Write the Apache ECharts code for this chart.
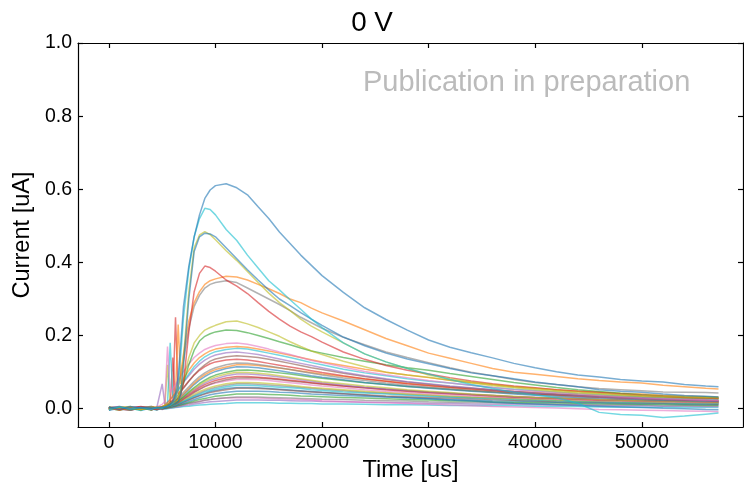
<!DOCTYPE html>
<html>
<head>
<meta charset="utf-8">
<title>0 V</title>
<script src="https://cdn.jsdelivr.net/npm/echarts@6/dist/echarts.min.js"></script>
<style>
    html, body { margin: 0; padding: 0; background: #fff; }
    #main { width: 744px; height: 487px; }
</style>
</head>
<body>
<div id="main"></div>
<script>

// time axis in us (shared by every trace)
var t = [0, 1000, 2000, 3000, 4000, 4500, 5000,
    5250, 5500, 5750, 6000, 6250, 6500, 6750, 7000,
    7500, 8000, 8500, 9000, 9500, 10000,
    11000, 12000, 13000, 14000, 15000, 16000, 17000, 18000, 19000, 20000,
    22000, 24000, 26000, 28000, 30000, 32000, 34000, 36000, 38000, 40000,
    42000, 44000, 46000, 48000, 50000, 52000, 54000, 56000, 57200];

var xTicks = [0, 10000, 20000, 30000, 40000, 50000];
var yTicks = [0, 0.2, 0.4, 0.6, 0.8, 1.0];

// big traces (uA)
var blueTop = [0.004, -0.002, 0.006, 0.001, 0.003, 0.002, 0.005,
    0.004, 0.008, 0.012, 0.02, 0.04, 0.09, 0.18, 0.28,
    0.39, 0.47, 0.53, 0.575, 0.598, 0.61,
    0.615, 0.604, 0.585, 0.552, 0.52, 0.483, 0.452, 0.42, 0.392, 0.364,
    0.318, 0.276, 0.244, 0.215, 0.188, 0.168, 0.153, 0.139, 0.124, 0.112, 0.101, 0.092, 0.087, 0.08, 0.076, 0.073, 0.066, 0.062, 0.06];
var cyanBig = [-0.003, 0.005, 0.0, 0.003, -0.002, 0.004, 0.002,
    0.005, 0.007, 0.01, 0.015, 0.025, 0.06, 0.15, 0.25,
    0.38, 0.47, 0.52, 0.548, 0.545, 0.53,
    0.49, 0.46, 0.42, 0.385, 0.35, 0.325, 0.298, 0.272, 0.245, 0.222,
    0.18, 0.15, 0.128, 0.11, 0.095, 0.08, 0.066, 0.055, 0.045, 0.038, 0.03, 0.015, -0.01, -0.016, -0.018, -0.024, -0.02, -0.015, -0.012];
var blueMid = [0.002, 0.005, -0.003, 0.004, 0.0, 0.003, 0.001,
    0.004, 0.006, 0.009, 0.012, 0.015, 0.02, 0.04, 0.12,
    0.3, 0.43, 0.47, 0.48, 0.478, 0.47,
    0.44, 0.41, 0.38, 0.352, 0.325, 0.3, 0.282, 0.263, 0.245, 0.228,
    0.196, 0.172, 0.152, 0.136, 0.123, 0.11, 0.098, 0.09, 0.082, 0.073, 0.066, 0.06, 0.052, 0.048, 0.045, 0.04, 0.036, 0.034, 0.032];
var oliveMid = [-0.001, 0.003, 0.006, -0.002, 0.004, 0.001, 0.003,
    0.006, 0.008, 0.01, 0.014, 0.018, 0.025, 0.05, 0.14,
    0.32, 0.44, 0.475, 0.484, 0.476, 0.462,
    0.432, 0.405, 0.375, 0.345, 0.316, 0.29, 0.268, 0.245, 0.226, 0.21,
    0.18, 0.15, 0.128, 0.11, 0.092, 0.082, 0.073, 0.066, 0.06, 0.055, 0.05, 0.046, 0.042, 0.039, 0.036, 0.034, 0.032, 0.031, 0.03];
var redMid = [0.003, -0.002, 0.002, 0.005, 0.001, -0.003, 0.004,
    0.006, 0.009, 0.012, 0.015, 0.02, 0.028, 0.04, 0.07,
    0.21, 0.32, 0.37, 0.39, 0.386, 0.376,
    0.352, 0.335, 0.315, 0.29, 0.266, 0.245, 0.226, 0.21, 0.197, 0.182,
    0.155, 0.135, 0.118, 0.105, 0.095, 0.085, 0.076, 0.068, 0.062, 0.057, 0.052, 0.048, 0.044, 0.04, 0.037, 0.034, 0.031, 0.029, 0.028];
var orangeMid = [0.002, 0.0, 0.004, -0.002, 0.003, 0.005, 0.004,
    0.006, 0.008, 0.01, 0.015, 0.03, 0.06, 0.1, 0.15,
    0.24, 0.29, 0.32, 0.34, 0.35, 0.355,
    0.362, 0.36, 0.352, 0.34, 0.328, 0.315, 0.3, 0.29, 0.275, 0.262,
    0.24, 0.216, 0.192, 0.172, 0.152, 0.138, 0.124, 0.11, 0.1, 0.094, 0.088, 0.082, 0.077, 0.073, 0.07, 0.064, 0.06, 0.056, 0.054];
var grayMid = [-0.002, 0.004, 0.001, 0.003, 0.006, 0.0, 0.002,
    0.005, 0.008, 0.012, 0.02, 0.035, 0.06, 0.09, 0.13,
    0.22, 0.28, 0.31, 0.33, 0.34, 0.345,
    0.35, 0.345, 0.33, 0.315, 0.3, 0.285, 0.268, 0.25, 0.235, 0.22,
    0.195, 0.175, 0.155, 0.14, 0.126, 0.112, 0.1, 0.09, 0.08, 0.072, 0.066, 0.06, 0.055, 0.052, 0.049, 0.046, 0.045, 0.044, 0.043];
var oliveLow = [0.004, 0.001, -0.003, 0.002, 0.005, 0.003, 0.006,
    0.009, 0.012, 0.015, 0.019, 0.025, 0.035, 0.055, 0.08,
    0.14, 0.18, 0.2, 0.215, 0.222, 0.228,
    0.238, 0.24, 0.232, 0.222, 0.21, 0.198, 0.183, 0.17, 0.158, 0.148,
    0.13, 0.115, 0.1, 0.092, 0.086, 0.078, 0.07, 0.063, 0.057, 0.052, 0.047, 0.043, 0.04, 0.037, 0.034, 0.032, 0.03, 0.029, 0.028];
var greenLow = [0.001, 0.004, 0.0, -0.003, 0.003, 0.002, 0.004,
    0.007, 0.01, 0.013, 0.017, 0.022, 0.03, 0.045, 0.07,
    0.12, 0.16, 0.185, 0.198, 0.205, 0.21,
    0.215, 0.214, 0.208, 0.2, 0.192, 0.183, 0.175, 0.166, 0.158, 0.152,
    0.14, 0.13, 0.12, 0.112, 0.105, 0.096, 0.088, 0.08, 0.072, 0.065, 0.058, 0.052, 0.047, 0.042, 0.038, 0.035, 0.033, 0.032, 0.031];

// the dense bundle of small traces
var k1 = [0.003, 0.006, -0.002, 0.004, 0.001, 0.005, 0.012,
    0.02, 0.17, 0.045, 0.055, 0.065, 0.078, 0.09, 0.102,
    0.122, 0.14, 0.152, 0.162, 0.168, 0.173,
    0.178, 0.18, 0.176, 0.17, 0.163, 0.155, 0.148, 0.14, 0.132, 0.126,
    0.114, 0.102, 0.093, 0.085, 0.077, 0.07, 0.064, 0.058, 0.052, 0.048, 0.044, 0.04, 0.036, 0.033, 0.03, 0.028, 0.026, 0.024, 0.023];
var k2 = [0.002, -0.004, 0.003, 0.0, 0.005, 0.002, 0.006,
    0.01, 0.016, 0.024, 0.034, 0.044, 0.23, 0.068, 0.082,
    0.105, 0.125, 0.14, 0.15, 0.158, 0.163,
    0.168, 0.17, 0.168, 0.163, 0.158, 0.152, 0.146, 0.14, 0.134, 0.128,
    0.118, 0.108, 0.1, 0.092, 0.085, 0.078, 0.072, 0.066, 0.06, 0.056, 0.052, 0.048, 0.045, 0.042, 0.04, 0.037, 0.035, 0.033, 0.032];
var k3 = [-0.003, 0.004, 0.001, -0.005, 0.003, 0.0, 0.004,
    0.008, 0.014, 0.18, 0.03, 0.04, 0.05, 0.062, 0.074,
    0.095, 0.115, 0.13, 0.142, 0.15, 0.156,
    0.162, 0.165, 0.163, 0.158, 0.152, 0.146, 0.14, 0.133, 0.126, 0.12,
    0.108, 0.098, 0.09, 0.082, 0.075, 0.07, 0.064, 0.058, 0.053, 0.049, 0.045, 0.041, 0.038, 0.035, 0.032, 0.03, 0.028, 0.027, 0.026];
var k4 = [0.001, -0.003, 0.005, 0.002, -0.001, 0.004, 0.068,
    0.012, 0.018, 0.026, 0.034, 0.042, 0.052, 0.062, 0.072,
    0.09, 0.108, 0.122, 0.133, 0.141, 0.147,
    0.153, 0.155, 0.152, 0.148, 0.142, 0.136, 0.13, 0.124, 0.118, 0.112,
    0.1, 0.09, 0.082, 0.074, 0.068, 0.062, 0.057, 0.052, 0.047, 0.043, 0.04, 0.036, 0.033, 0.03, 0.028, 0.026, 0.024, 0.022, 0.021];
var k5 = [0.004, 0.0, -0.004, 0.003, 0.006, 0.001, 0.004,
    0.007, 0.011, 0.016, 0.022, 0.03, 0.038, 0.047, 0.056,
    0.075, 0.093, 0.108, 0.12, 0.13, 0.136,
    0.142, 0.145, 0.143, 0.14, 0.135, 0.13, 0.124, 0.118, 0.112, 0.107,
    0.097, 0.088, 0.08, 0.073, 0.067, 0.061, 0.056, 0.051, 0.047, 0.043, 0.039, 0.036, 0.033, 0.031, 0.029, 0.027, 0.025, 0.024, 0.023];
var k6 = [-0.002, 0.003, 0.0, 0.005, -0.003, 0.002, 0.005,
    0.008, 0.012, 0.017, 0.024, 0.25, 0.04, 0.05, 0.058,
    0.076, 0.092, 0.105, 0.115, 0.123, 0.128,
    0.133, 0.135, 0.133, 0.129, 0.124, 0.119, 0.114, 0.109, 0.104, 0.099,
    0.09, 0.082, 0.075, 0.068, 0.063, 0.058, 0.053, 0.049, 0.045, 0.041, 0.038, 0.035, 0.032, 0.03, 0.028, 0.026, 0.024, 0.023, 0.022];
var k7 = [0.002, 0.006, 0.001, -0.002, 0.004, 0.0, 0.003,
    0.005, 0.008, 0.012, 0.017, 0.023, 0.03, 0.037, 0.045,
    0.06, 0.075, 0.088, 0.098, 0.106, 0.112,
    0.12, 0.125, 0.124, 0.121, 0.117, 0.112, 0.107, 0.102, 0.097, 0.092,
    0.084, 0.077, 0.07, 0.064, 0.059, 0.054, 0.05, 0.046, 0.042, 0.039, 0.036, 0.033, 0.03, 0.028, 0.026, 0.024, 0.023, 0.022, 0.021];
var k8 = [-0.004, 0.001, 0.004, 0.0, 0.002, -0.002, 0.002,
    0.004, 0.007, 0.01, 0.014, 0.019, 0.025, 0.031, 0.038,
    0.052, 0.066, 0.078, 0.088, 0.096, 0.102,
    0.11, 0.115, 0.114, 0.112, 0.108, 0.104, 0.099, 0.095, 0.09, 0.086,
    0.079, 0.072, 0.066, 0.061, 0.056, 0.052, 0.048, 0.044, 0.04, 0.037, 0.034, 0.031, 0.029, 0.027, 0.025, 0.023, 0.022, 0.021, 0.02];
var k9 = [0.005, 0.002, -0.001, 0.003, -0.004, 0.003, 0.001,
    0.003, 0.005, 0.008, 0.012, 0.016, 0.021, 0.027, 0.033,
    0.046, 0.058, 0.069, 0.078, 0.086, 0.092,
    0.1, 0.105, 0.106, 0.104, 0.101, 0.098, 0.095, 0.091, 0.087, 0.083,
    0.077, 0.071, 0.066, 0.061, 0.057, 0.053, 0.049, 0.046, 0.043, 0.04, 0.038, 0.036, 0.034, 0.032, 0.031, 0.03, 0.029, 0.028, 0.028];
var k10 = [0.0, 0.004, -0.003, 0.002, 0.005, 0.001, 0.003,
    0.004, 0.006, 0.009, 0.012, 0.016, 0.02, 0.025, 0.03,
    0.041, 0.052, 0.062, 0.07, 0.077, 0.082,
    0.09, 0.095, 0.095, 0.093, 0.09, 0.087, 0.083, 0.079, 0.075, 0.071,
    0.065, 0.059, 0.054, 0.05, 0.046, 0.042, 0.039, 0.036, 0.033, 0.031, 0.029, 0.027, 0.025, 0.023, 0.022, 0.021, 0.02, 0.019, 0.019];
var k11 = [0.003, -0.003, 0.002, 0.006, 0.0, 0.003, 0.002,
    0.004, 0.006, 0.009, 0.14, 0.015, 0.019, 0.024, 0.029,
    0.039, 0.049, 0.058, 0.066, 0.072, 0.077,
    0.084, 0.088, 0.088, 0.086, 0.084, 0.081, 0.078, 0.075, 0.071, 0.068,
    0.062, 0.057, 0.052, 0.048, 0.044, 0.041, 0.038, 0.035, 0.032, 0.03, 0.028, 0.026, 0.024, 0.023, 0.022, 0.021, 0.02, 0.019, 0.018];
var k12 = [-0.001, 0.003, 0.005, 0.001, -0.003, 0.004, 0.003,
    0.005, 0.007, 0.01, 0.013, 0.016, 0.02, 0.024, 0.028,
    0.036, 0.045, 0.053, 0.06, 0.066, 0.07,
    0.076, 0.08, 0.08, 0.079, 0.077, 0.074, 0.071, 0.068, 0.065, 0.062,
    0.057, 0.052, 0.048, 0.044, 0.041, 0.038, 0.035, 0.032, 0.03, 0.028, 0.026, 0.024, 0.022, 0.021, 0.02, 0.019, 0.018, 0.017, 0.017];
var k13 = [0.002, 0.0, 0.004, -0.002, 0.003, 0.001, 0.004,
    0.006, 0.12, 0.01, 0.012, 0.015, 0.018, 0.021, 0.025,
    0.032, 0.04, 0.047, 0.053, 0.058, 0.062,
    0.068, 0.072, 0.072, 0.071, 0.069, 0.067, 0.064, 0.061, 0.058, 0.056,
    0.052, 0.048, 0.044, 0.041, 0.038, 0.035, 0.032, 0.03, 0.028, 0.026, 0.024, 0.022, 0.021, 0.02, 0.019, 0.018, 0.017, 0.016, 0.016];
var k14 = [0.004, -0.002, 0.001, 0.003, 0.0, -0.004, 0.002,
    0.003, 0.005, 0.007, 0.009, 0.011, 0.014, 0.017, 0.02,
    0.027, 0.034, 0.04, 0.046, 0.05, 0.054,
    0.06, 0.064, 0.064, 0.063, 0.061, 0.059, 0.057, 0.055, 0.052, 0.05,
    0.046, 0.043, 0.04, 0.037, 0.034, 0.032, 0.03, 0.028, 0.026, 0.024, 0.022, 0.02, 0.019, 0.018, 0.017, 0.016, 0.015, 0.015, 0.014];
var k15 = [-0.003, 0.002, 0.0, 0.004, 0.001, 0.003, -0.001,
    0.002, 0.004, 0.006, 0.008, 0.01, 0.012, 0.015, 0.018,
    0.024, 0.03, 0.035, 0.04, 0.044, 0.047,
    0.052, 0.056, 0.056, 0.055, 0.054, 0.052, 0.05, 0.048, 0.046, 0.044,
    0.041, 0.038, 0.035, 0.033, 0.031, 0.029, 0.027, 0.025, 0.023, 0.022, 0.02, 0.019, 0.018, 0.017, 0.016, 0.015, 0.014, 0.014, 0.013];
var k16 = [0.002, 0.005, -0.002, 0.0, 0.003, 0.002, 0.001,
    0.002, 0.003, 0.005, 0.007, 0.009, 0.011, 0.013, 0.015,
    0.02, 0.025, 0.03, 0.034, 0.038, 0.041,
    0.045, 0.048, 0.048, 0.048, 0.047, 0.045, 0.044, 0.042, 0.04, 0.039,
    0.036, 0.034, 0.032, 0.03, 0.028, 0.026, 0.024, 0.022, 0.021, 0.02, 0.018, 0.017, 0.016, 0.015, 0.014, 0.014, 0.013, 0.012, 0.012];
var k17 = [0.0, -0.003, 0.003, 0.001, -0.002, 0.002, 0.0,
    0.001, 0.002, 0.004, 0.005, 0.007, 0.009, 0.011, 0.013,
    0.017, 0.021, 0.025, 0.028, 0.031, 0.034,
    0.037, 0.04, 0.04, 0.04, 0.039, 0.038, 0.037, 0.035, 0.034, 0.033,
    0.031, 0.029, 0.027, 0.025, 0.024, 0.022, 0.021, 0.019, 0.018, 0.017, 0.016, 0.015, 0.014, 0.013, 0.012, 0.012, 0.011, 0.01, 0.01];
var k18 = [0.003, 0.0, -0.004, 0.002, 0.004, -0.001, 0.002,
    0.002, 0.003, 0.004, 0.005, 0.006, 0.008, 0.009, 0.011,
    0.014, 0.017, 0.02, 0.023, 0.025, 0.027,
    0.03, 0.032, 0.032, 0.032, 0.031, 0.03, 0.029, 0.028, 0.027, 0.026,
    0.025, 0.023, 0.022, 0.021, 0.019, 0.018, 0.017, 0.016, 0.015, 0.014, 0.013, 0.012, 0.011, 0.011, 0.01, 0.009, 0.009, 0.008, 0.008];
var k19 = [-0.002, 0.001, 0.004, -0.003, 0.0, 0.003, -0.002,
    0.0, 0.001, 0.002, 0.003, 0.004, 0.005, 0.007, 0.008,
    0.01, 0.013, 0.015, 0.017, 0.019, 0.02,
    0.022, 0.024, 0.024, 0.024, 0.023, 0.023, 0.022, 0.021, 0.021, 0.02,
    0.019, 0.018, 0.017, 0.016, 0.015, 0.014, 0.013, 0.012, 0.012, 0.011, 0.01, 0.01, 0.009, 0.008, 0.008, 0.007, 0.007, 0.006, 0.006];
var k20 = [0.001, -0.004, 0.002, 0.0, 0.003, -0.002, 0.001,
    -0.001, 0.0, 0.001, 0.002, 0.003, 0.004, 0.005, 0.006,
    0.007, 0.009, 0.01, 0.011, 0.012, 0.013,
    0.014, 0.016, 0.016, 0.016, 0.016, 0.015, 0.015, 0.014, 0.014, 0.013,
    0.013, 0.012, 0.011, 0.011, 0.01, 0.009, 0.009, 0.008, 0.008, 0.007, 0.006, 0.006, 0.005, 0.005, 0.004, 0.004, 0.003, 0.003, 0.003];
var k21 = [0.002, -0.001, -0.004, 0.003, 0.001, 0.0, 0.002,
    0.001, 0.002, 0.003, 0.004, 0.006, 0.007, 0.009, 0.011,
    0.014, 0.017, 0.02, 0.023, 0.025, 0.027,
    0.029, 0.03, 0.03, 0.029, 0.028, 0.027, 0.026, 0.025, 0.024, 0.022,
    0.02, 0.018, 0.016, 0.014, 0.012, 0.01, 0.008, 0.006, 0.005, 0.003, 0.002, 0.0, -0.002, -0.003, -0.004, -0.005, -0.006, -0.007, -0.008];
var k22 = [0.001, 0.003, -0.002, 0.004, 0.002, -0.001, 0.003,
    0.005, 0.008, 0.011, 0.015, 0.02, 0.026, 0.033, 0.04,
    0.055, 0.07, 0.083, 0.093, 0.101, 0.107,
    0.114, 0.12, 0.12, 0.118, 0.115, 0.111, 0.107, 0.103, 0.099, 0.095,
    0.088, 0.081, 0.075, 0.069, 0.064, 0.059, 0.055, 0.051, 0.047, 0.044, 0.041, 0.038, 0.036, 0.034, 0.032, 0.031, 0.03, 0.029, 0.028];
var k23 = [-0.002, 0.002, 0.004, 0.0, 0.003, 0.001, 0.002,
    0.004, 0.006, 0.009, 0.012, 0.016, 0.021, 0.026, 0.032,
    0.043, 0.055, 0.065, 0.074, 0.081, 0.087,
    0.095, 0.1, 0.099, 0.097, 0.094, 0.09, 0.086, 0.082, 0.078, 0.074,
    0.068, 0.062, 0.057, 0.052, 0.048, 0.044, 0.04, 0.037, 0.034, 0.031, 0.029, 0.027, 0.025, 0.023, 0.022, 0.021, 0.02, 0.019, 0.018];
var k24 = [0.003, 0.0, 0.002, -0.003, 0.004, 0.002, 0.0,
    0.002, 0.004, 0.007, 0.01, 0.013, 0.017, 0.021, 0.026,
    0.035, 0.045, 0.053, 0.061, 0.067, 0.072,
    0.079, 0.084, 0.085, 0.084, 0.082, 0.079, 0.076, 0.073, 0.07, 0.067,
    0.062, 0.057, 0.053, 0.049, 0.045, 0.042, 0.039, 0.036, 0.033, 0.031, 0.029, 0.027, 0.025, 0.024, 0.023, 0.022, 0.021, 0.02, 0.019];
var k25 = [0.0, 0.004, 0.001, 0.002, -0.002, 0.003, 0.001,
    0.003, 0.005, 0.007, 0.009, 0.012, 0.015, 0.018, 0.022,
    0.029, 0.036, 0.043, 0.049, 0.054, 0.058,
    0.064, 0.068, 0.068, 0.067, 0.065, 0.063, 0.061, 0.058, 0.056, 0.053,
    0.049, 0.045, 0.042, 0.039, 0.036, 0.033, 0.031, 0.029, 0.027, 0.025, 0.023, 0.022, 0.02, 0.019, 0.018, 0.017, 0.016, 0.015, 0.015];
var k26 = [0.002, -0.001, 0.003, 0.005, 0.0, 0.002, 0.003,
    0.003, 0.004, 0.006, 0.008, 0.01, 0.013, 0.016, 0.019,
    0.025, 0.031, 0.037, 0.042, 0.047, 0.05,
    0.055, 0.058, 0.058, 0.057, 0.055, 0.053, 0.051, 0.049, 0.047, 0.045,
    0.041, 0.037, 0.033, 0.03, 0.027, 0.024, 0.021, 0.018, 0.015, 0.013, 0.011, 0.009, 0.007, 0.005, 0.003, 0.001, 0.0, -0.002, -0.003];

// matplotlib tab10
var C = {
    blue: '#1f77b4', orange: '#ff7f0e', green: '#2ca02c', red: '#d62728', purple: '#9467bd',
    brown: '#8c564b', pink: '#e377c2', gray: '#7f7f7f', olive: '#bcbd22', cyan: '#17becf'
};

// drawing order: bundle first, big traces on top
var traces = [
    [k20, C.cyan], [k19, C.purple], [k21, C.pink], [k18, C.gray], [k17, C.green],
    [k26, C.blue], [k16, C.blue], [k15, C.brown], [k25, C.gray], [k14, C.cyan],
    [k13, C.olive], [k12, C.pink], [k24, C.brown], [k11, C.red], [k10, C.purple],
    [k23, C.olive], [k9, C.green], [k8, C.blue], [k22, C.orange], [k7, C.gray],
    [k6, C.red], [k5, C.brown], [k4, C.purple], [k3, C.cyan], [k2, C.orange], [k1, C.pink],
    [greenLow, C.green], [oliveLow, C.olive], [grayMid, C.gray], [orangeMid, C.orange],
    [redMid, C.red], [oliveMid, C.olive], [blueMid, C.blue], [cyanBig, C.cyan], [blueTop, C.blue]
];

var font = 'Liberation Sans, Arial, Helvetica, sans-serif';

var series = traces.map(function (tr) {
    return {
        type: 'line',
        data: t.map(function (x, i) { return [x, tr[0][i]]; }),
        showSymbol: false,
        silent: true,
        lineStyle: { color: tr[1], width: 1.5, opacity: 0.6 },
        itemStyle: { color: tr[1] }
    };
});

function frameAxis(pos, showLabel, ticks) {
    return {
        type: 'value',
        position: pos,
        axisLine: { show: true, onZero: false, lineStyle: { color: '#000', width: 1.2 } },
        axisTick: { show: true, inside: true, length: 5, customValues: ticks, lineStyle: { color: '#000', width: 1.2 } },
        splitLine: { show: false },
        axisLabel: { show: showLabel, customValues: ticks }
    };
}

var xBottom = frameAxis('bottom', true, xTicks);
xBottom.min = -2900; xBottom.max = 59500;
xBottom.axisLabel.fontSize = 19.5;
xBottom.axisLabel.color = '#000';
xBottom.axisLabel.fontFamily = font;
xBottom.axisLabel.margin = 6;
xBottom.axisLabel.formatter = function (v) { return String(v); };
xBottom.name = 'Time [us]';
xBottom.nameLocation = 'middle';
xBottom.nameGap = 31;
xBottom.nameTextStyle = { fontSize: 23.6, color: '#000', fontFamily: font };

var xTop = frameAxis('top', false, xTicks);
xTop.min = -2900; xTop.max = 59500;

var yLeft = frameAxis('left', true, yTicks);
yLeft.min = -0.05; yLeft.max = 1.0;
yLeft.axisLabel.fontSize = 19.5;
yLeft.axisLabel.color = '#000';
yLeft.axisLabel.fontFamily = font;
yLeft.axisLabel.margin = 6;
yLeft.axisLabel.formatter = function (v) { return v.toFixed(1); };
yLeft.name = 'Current [uA]';
yLeft.nameLocation = 'middle';
yLeft.nameGap = 44;
yLeft.nameTextStyle = { fontSize: 23.6, color: '#000', fontFamily: font };

var yRight = frameAxis('right', false, yTicks);
yRight.min = -0.05; yRight.max = 1.0;

var chart = echarts.init(document.getElementById('main'), null, { renderer: 'canvas' });

chart.setOption({
    animation: false,
    backgroundColor: '#fff',
    title: {
        text: '0 V',
        left: 'center',
        top: 9,
        padding: 0,
        textStyle: { fontSize: 27.8, fontWeight: 'normal', color: '#000', fontFamily: font }
    },
    grid: { left: 78, right: 1, top: 43, bottom: 56, containLabel: false },
    xAxis: [xBottom, xTop],
    yAxis: [yLeft, yRight],
    series: series,
    graphic: [{
        type: 'text',
        left: 363,
        top: 68,
        silent: true,
        style: {
            text: 'Publication in preparation',
            fontSize: 29,
            fontFamily: font,
            fill: '#bbbbbb'
        }
    }]
});
</script>
</body>
</html>
